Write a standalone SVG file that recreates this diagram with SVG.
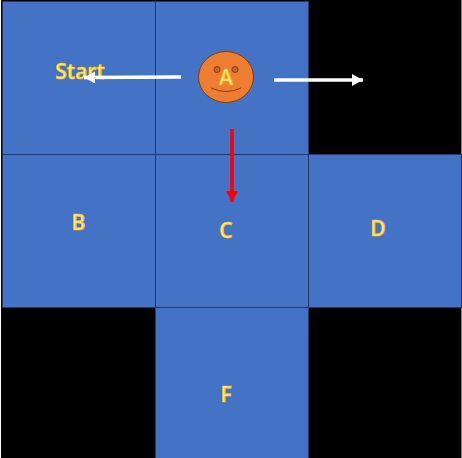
<svg xmlns="http://www.w3.org/2000/svg" width="462" height="458" viewBox="0 0 462 458">
<style>
.cell{fill:#4472c4;stroke:#1f3864;stroke-width:1}
.lbl{font-family:"Open Sans","Noto Sans",sans-serif;font-size:21px;font-weight:600;fill:#ffe98a;stroke:#ffc000;stroke-width:.7;text-anchor:middle}
.w{stroke:#fff;stroke-width:3.5;fill:none}
.r{stroke:#f00;stroke-width:3.5;fill:none}
</style>
<defs>
<marker id="aw" markerUnits="userSpaceOnUse" markerWidth="12" markerHeight="12" refX="11" refY="6" orient="auto"><path d="M0 0L11 6L0 12Z" fill="#fff"/></marker>
<marker id="ar" markerUnits="userSpaceOnUse" markerWidth="12" markerHeight="12" refX="11" refY="6" orient="auto"><path d="M0 0L11 6L0 12Z" fill="#f00"/></marker>
</defs>
<rect x="0" y="0" width="462" height="458" fill="#fff"/>
<rect x="1" y="0" width="460.500" height="458" fill="#000"/>
<g id="start"><rect class="cell" x="2.500" y="1.500" width="153" height="153"/><text class="lbl" x="80" y="79">Start</text></g>
<g id="a"><rect class="cell" x="155.500" y="1.500" width="153" height="153"/></g>
<g id="b"><rect class="cell" x="2.500" y="154.500" width="153" height="153"/><text class="lbl" x="78.500" y="230">B</text></g>
<g id="c"><rect class="cell" x="155.500" y="154.500" width="153" height="153"/><text class="lbl" x="226" y="238">C</text></g>
<g id="d"><rect class="cell" x="308.500" y="154.500" width="153" height="153"/><text class="lbl" x="378" y="236">D</text></g>
<g id="f"><rect class="cell" x="155.500" y="307.500" width="153" height="152"/><text class="lbl" x="226" y="401.500">F</text></g>
<g id="face">
<ellipse cx="226" cy="77" rx="27.500" ry="25.500" fill="#ed7d31" stroke="#843c0c" stroke-width="1"/>
<circle cx="217" cy="69.500" r="3" fill="#c0682a" stroke="#843c0c" stroke-width="1"/>
<circle cx="235" cy="69.500" r="3" fill="#c0682a" stroke="#843c0c" stroke-width="1"/>
<path d="M211 88Q226 95 241 88" fill="none" stroke="#843c0c" stroke-width="1"/>
<text class="lbl" x="226" y="85">A</text>
</g>
<g id="connectors">
<path class="w" d="M181 77L84 77.500" marker-end="url(#aw)"/>
<path class="w" d="M274 80L363 80" marker-end="url(#aw)"/>
<path class="r" d="M232 129L232 202" marker-end="url(#ar)"/>
</g>
</svg>
